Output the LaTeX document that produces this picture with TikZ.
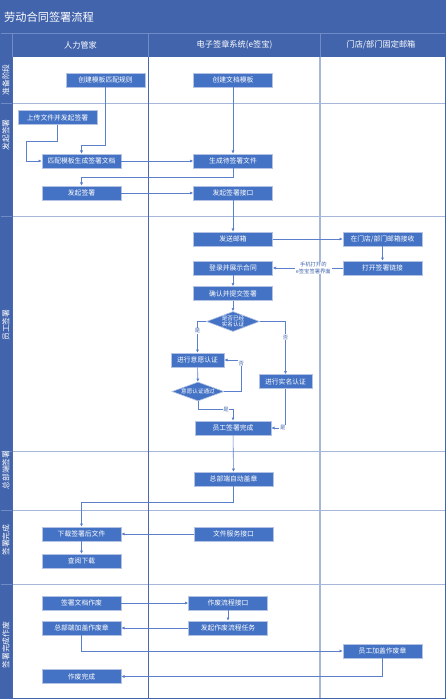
\documentclass[tikz,border=0pt]{standalone}
\usepackage{fontspec}
\setmainfont{Noto Sans CJK SC}
\usetikzlibrary{arrows.meta,shapes.geometric}
\definecolor{hdr}{HTML}{4264AD}
\definecolor{box}{HTML}{4472C4}
\definecolor{boxline}{HTML}{B4C3E3}
\definecolor{conn}{HTML}{5B7FCB}
\definecolor{gridA}{HTML}{4A68AE}
\definecolor{gridB}{HTML}{A7B7DA}
\definecolor{hdrline}{HTML}{6F8AC4}
\tikzset{
  stepbox/.style={draw=boxline, line width=0.6pt, fill=box, text=white,
    minimum width=79pt, minimum height=14pt, inner sep=0pt,
    font=\fontsize{6.8}{8}\selectfont},
  decision/.style={diamond, draw=boxline, line width=0.6pt, fill=box,
    minimum width=53pt, minimum height=20pt, inner sep=0pt},
  dtext/.style={text=white, align=center, inner sep=0pt,
    font=\fontsize{5.6}{6.6}\selectfont},
  arr/.style={draw=conn, line width=0.6pt, -{Latex[length=3.2pt,width=3.2pt]}},
  lbl/.style={fill=white, text=hdr, inner sep=0.8pt, align=center,
    font=\fontsize{5.3}{6.2}\selectfont},
  lanetxt/.style={rotate=90, text=white, inner sep=0pt,
    font=\fontsize{7.8}{9}\selectfont},
  coltxt/.style={text=white, inner sep=0pt, font=\fontsize{8.2}{9}\selectfont},
}
\begin{document}
\begin{tikzpicture}[x=1pt,y=-1pt]
\useasboundingbox (0,0) rectangle (447,700);
% backgrounds
\fill[white] (0,0) rectangle (447,700);
\fill[hdr] (0,0) rectangle (446,57);
\fill[hdr] (0,57) rectangle (12,699);
\draw[hdrline, line width=0.6pt] (0,33) -- (446,33);
\draw[hdrline, line width=0.6pt] (12,33) -- (12,57);
\draw[hdrline, line width=0.6pt] (148,33) -- (148,57);
\draw[hdrline, line width=0.6pt] (320,33) -- (320,57);
% grid
\foreach \yy in {103,216,451,510,584} {
  \draw[gridB, line width=0.9pt] (12,\yy) -- (446,\yy);
  \draw[hdrline, line width=0.6pt] (0,\yy) -- (12,\yy);
}
\draw[gridA, line width=0.7pt] (148,57) -- (148,699);
\draw[gridB, line width=1.4pt] (320,57) -- (320,699);
\draw[gridA, line width=0.7pt] (12,57) -- (12,699);
\draw[hdr, line width=1.2pt] (0.6,0.6) rectangle (445.8,698.8);
% titles
\node[anchor=west, text=white, inner sep=0pt, font=\fontsize{11.2}{13}\selectfont] (title) at (4,17) {劳动合同签署流程};
\node[coltxt] (c1) at (80.5,45) {人力管家};
\node[coltxt] (c2) at (234.5,45) {电子签章系统(e签宝)};
\node[coltxt] (c3) at (381,45) {门店/部门固定邮箱};
% lane labels
\node[lanetxt] (l1) at (6,80) {准备阶段};
\node[lanetxt] (l2) at (6,135) {发起签署};
\node[lanetxt] (l3) at (6,325) {员工签署};
\node[lanetxt] (l4) at (6,470) {总部端签署};
\node[lanetxt] (l5) at (6,540) {签署完成};
\node[lanetxt] (l6) at (6,645) {签署完成作废};
% lane 1
\node[stepbox] (rule) at (105.5,80) {创建模板匹配规则};
\node[stepbox] (tpl) at (233,80) {创建文档模板};
% lane 2
\node[stepbox] (upload) at (57.5,117.5) {上传文件并发起签署};
\node[stepbox] (match) at (81.5,161) {匹配模板生成签署文档};
\node[stepbox] (gen) at (233,161) {生成待签署文件};
\node[stepbox] (launch) at (81.5,193) {发起签署};
\node[stepbox] (api) at (233,193) {发起签署接口};
% lane 3
\node[stepbox] (mail) at (233,239) {发送邮箱};
\node[stepbox] (recv) at (382.5,239) {在门店/部门邮箱接收};
\node[stepbox] (open) at (382.5,268) {打开签署链接};
\node[stepbox] (login) at (233,268) {登录并展示合同};
\node[stepbox] (confirm) at (233,293.5) {确认并提交签署};
\node[decision] (d1) at (233,321.5) {};
\node[dtext] (d1t) at (d1) {是否已经\\实名认证};
\node[stepbox, minimum width=53pt] (will) at (197.5,360) {进行意愿认证};
\node[decision, minimum width=52pt, minimum height=19pt] (d2) at (198,391.5) {};
\node[dtext] (d2t) at (d2) {意愿认证通过};
\node[stepbox, minimum width=53pt] (real) at (285.5,381.5) {进行实名认证};
\node[stepbox, minimum width=76pt] (done) at (233,428) {员工签署完成};
% lane 4
\node[stepbox] (stamp) at (233.5,479) {总部端自动盖章};
% lane 5
\node[stepbox] (dl) at (81.5,534) {下载签署后文件};
\node[stepbox] (fsvc) at (233.5,534) {文件服务接口};
\node[stepbox] (view) at (81.5,561) {查阅下载};
% lane 6
\node[stepbox] (void) at (81.5,603) {签署文档作废};
\node[stepbox] (vapi) at (228,603) {作废流程接口};
\node[stepbox] (vtask) at (228,628) {发起作废流程任务};
\node[stepbox] (hqvoid) at (81.5,628) {总部端加盖作废章};
\node[stepbox] (empvoid) at (382.5,651) {员工加盖作废章};
\node[stepbox] (vdone) at (81.5,676.5) {作废完成};
% connectors
\draw[arr] (rule.south) -- ++(0,58) -| (match.north);
\draw[arr] (upload.south) -- ++(0,16.5) -- ++(-31.5,0) |- (match.west);
\draw[arr] (match) -- (gen);
\draw[arr] (tpl) -- (gen);
\draw[arr] (gen.south) -- ++(0,9) -| (launch.north);
\draw[arr] (launch) -- (api);
\draw[arr] (api) -- (mail);
\draw[arr] (mail) -- (recv);
\draw[arr] (recv) -- (open);
\draw[arr] (open) -- node[lbl, pos=0.42] {手机打开的\\e签宝签署界面} (login);
\draw[arr] (login) -- (confirm);
\draw[arr] (confirm) -- (d1);
\draw[arr] (d1.west) -| node[lbl, pos=0.65] {是} (will.north);
\draw[arr] (d1.east) -| node[lbl, pos=0.65] {否} (real.north);
\draw[arr] (will) -- (d2);
\draw[arr] (d2.east) -- ++(17,0) |- node[lbl, pos=0.45] {否} (will.east);
\draw[arr] (d2.south) -- ++(0,8) -| node[lbl, pos=0.4] {是} (done.north);
\draw[arr] (real.south) |- node[lbl, pos=0.6] {是} (done.east);
\draw[arr] (done) -- (stamp);
\draw[arr] (stamp.south) -- ++(0,16) -| (dl.north);
\draw[arr] (fsvc) -- (dl);
\draw[arr] (dl) -- (view);
\draw[arr] (void) -- (vapi);
\draw[arr] (vapi) -- (vtask);
\draw[arr] (vtask) -- (hqvoid);
\draw[arr] (hqvoid.south) |- (empvoid.west);
\draw[arr] (empvoid.south) |- (vdone.east);
\end{tikzpicture}
\end{document}
